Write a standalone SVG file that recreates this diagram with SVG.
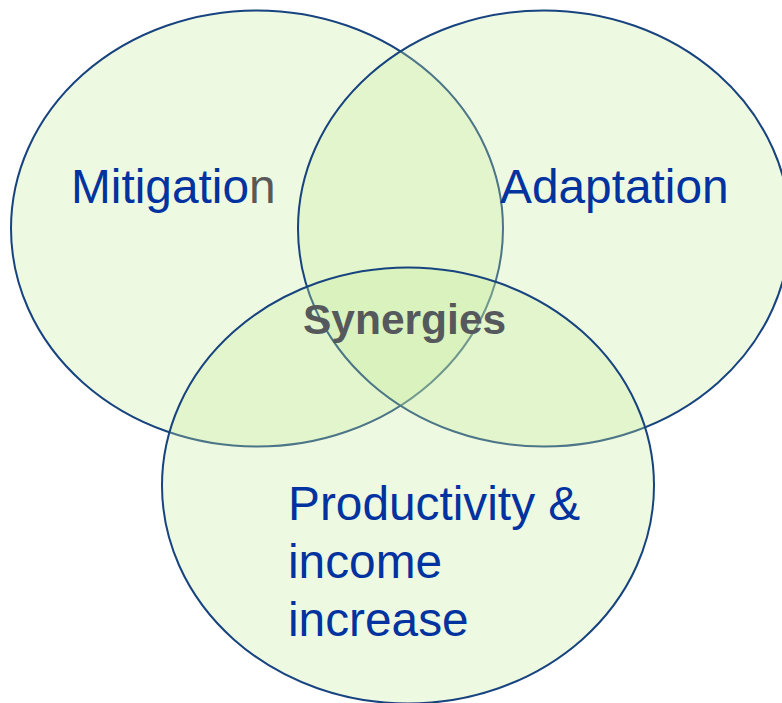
<svg xmlns="http://www.w3.org/2000/svg" width="782" height="703" viewBox="0 0 782 703">
<style>
.c{fill:#c6ec9c;fill-opacity:.3;stroke:#17437f;stroke-width:2}
.t{font-family:"Liberation Sans",Arial,sans-serif;font-size:47.8px;fill:#0033a0}
</style>
<rect width="782" height="703" fill="#fff"/>
<g id="connectors"/>
<g id="mitigation"><ellipse class="c" cx="257" cy="228.500" rx="246" ry="218"/><text class="t" x="71" y="203">Mitigatio<tspan fill="#595959">n</tspan></text></g>
<g id="adaptation"><ellipse class="c" cx="544" cy="228.500" rx="246" ry="218"/><text class="t" x="500" y="203">Adaptation</text></g>
<g id="productivity"><ellipse class="c" cx="408" cy="485.500" rx="246" ry="218"/><text class="t" x="288" y="520">Productivity &amp;</text><text class="t" x="288" y="578">income</text><text class="t" x="288" y="636">increase</text></g>
<g id="synergies"><text x="303" y="334" font-family="'Liberation Sans',Arial,sans-serif" font-size="42.500" font-weight="700" fill="#55585c">Synergies</text></g>
</svg>
